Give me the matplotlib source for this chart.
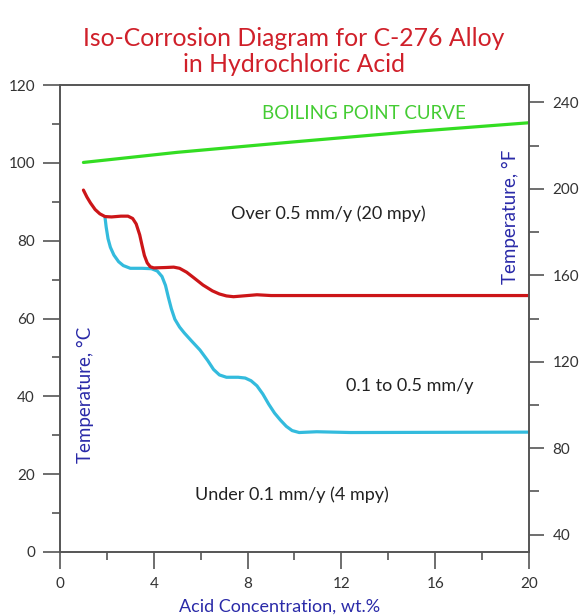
import numpy as np
import matplotlib
matplotlib.use('Agg')
import matplotlib.pyplot as plt
from matplotlib.ticker import MultipleLocator

plt.rcParams['font.family'] = ['Lato', 'DejaVu Sans']

# boiling point curve (wt.%, deg C)
bp_x = [1.0, 5.0, 10.0, 15.0, 20.0]
bp_y = [100.1, 102.7, 105.4, 108.0, 110.3]

# 0.5 mm/y iso-corrosion line
red_x = [1.0, 1.15, 1.3, 1.5, 1.7, 1.92, 2.2, 2.6, 2.9, 3.1, 3.25, 3.4, 3.5, 3.6,
         3.72, 3.85, 4.0, 4.5, 4.85, 5.1, 5.4, 5.7, 6.1, 6.5, 6.8, 7.1, 7.4, 7.8,
         8.4, 9.0, 20.0]
red_y = [93.0, 91.2, 89.7, 88.0, 86.9, 86.2, 86.1, 86.3, 86.3, 85.7, 84.3, 81.5, 78.8, 76.2,
         74.3, 73.3, 73.0, 73.1, 73.2, 72.9, 71.9, 70.5, 68.6, 67.1, 66.3, 65.8, 65.6, 65.8,
         66.1, 65.9, 65.9]

# 0.1 mm/y iso-corrosion line
blue_x = [1.92, 1.97, 2.05, 2.15, 2.3, 2.5, 2.7, 3.0, 3.5, 3.9, 4.15, 4.35, 4.5,
          4.62, 4.75, 4.9, 5.1, 5.3, 5.6, 5.97, 6.3, 6.55, 6.8, 7.1, 7.6, 7.9,
          8.15, 8.4, 8.65, 8.9, 9.15, 9.4, 9.65, 9.9, 10.2, 10.95, 12.4, 20.0]
blue_y = [86.0, 83.5, 80.5, 78.3, 76.3, 74.6, 73.6, 72.9, 72.9, 72.8, 72.2, 70.8, 68.5,
          65.5, 62.5, 59.8, 57.8, 56.3, 54.3, 51.9, 49.2, 46.9, 45.5, 44.9, 44.9, 44.7,
          44.0, 42.7, 40.6, 38.0, 35.7, 33.9, 32.3, 31.2, 30.7, 30.9, 30.7, 30.8]

fig = plt.figure(figsize=(5.8, 6.16), dpi=100)
ax = fig.add_axes([0.1034, 0.1039, 0.8086, 0.7581])

ax.plot(bp_x, bp_y, color='#33dd22', lw=2.3, solid_capstyle='round')
ax.plot(blue_x, blue_y, color='#33bbdd', lw=2.3, solid_capstyle='round',
        solid_joinstyle='round')
ax.plot(red_x, red_y, color='#cc1518', lw=2.3, solid_capstyle='round',
        solid_joinstyle='round')

ax.set_xlim(0, 20)
ax.set_ylim(0, 120)
ax.xaxis.set_major_locator(MultipleLocator(4))
ax.xaxis.set_minor_locator(MultipleLocator(2))
ax.yaxis.set_major_locator(MultipleLocator(20))
ax.yaxis.set_minor_locator(MultipleLocator(10))

spine_col = '#555555'
lab_col = '#333333'
for s in ax.spines.values():
    s.set_color(spine_col)
    s.set_linewidth(1.2)
ax.tick_params(which='major', direction='out', length=12, width=1.2,
               color=spine_col, labelcolor=lab_col, labelsize=11, pad=6)
ax.tick_params(which='minor', direction='out', length=6, width=1.2, color=spine_col)

# right axis in Fahrenheit
ax2 = ax.twinx()
ax2.set_ylim(0 * 1.8 + 32, 120 * 1.8 + 32)
ax2.yaxis.set_major_locator(MultipleLocator(40))
ax2.yaxis.set_minor_locator(MultipleLocator(20))
for s in ax2.spines.values():
    s.set_color(spine_col)
    s.set_linewidth(1.2)
ax2.tick_params(which='major', direction='out', length=11, width=1.2,
                color=spine_col, labelcolor=lab_col, labelsize=11, pad=6)
ax2.tick_params(which='minor', direction='out', length=7, width=1.2, color=spine_col)

txt_col = '#222222'
ax.text(12.97, 112.6, 'BOILING POINT CURVE', color='#44cc33', fontsize=13.5,
        ha='center', va='center')
ax.text(11.43, 86.9, 'Over 0.5 mm/y (20 mpy)', color=txt_col, fontsize=13,
        ha='center', va='center')
ax.text(14.9, 42.7, '0.1 to 0.5 mm/y', color=txt_col, fontsize=13,
        ha='center', va='center')
ax.text(9.9, 14.65, 'Under 0.1 mm/y (4 mpy)', color=txt_col, fontsize=13,
        ha='center', va='center')

blue_lab = '#2a2aa8'
ax.text(1.07, 40.4, 'Temperature, °C', color=blue_lab, fontsize=13.5,
        rotation=90, ha='center', va='center')
ax.text(19.19, 86.1, 'Temperature, °F', color=blue_lab, fontsize=13.5,
        rotation=90, ha='center', va='center')
fig.text(279.5 / 580, 1 - 607 / 616, 'Acid Concentration, wt.%', color=blue_lab,
         fontsize=13, ha='center', va='center')

fig.text(294 / 580, 1 - 51.5 / 616, 'Iso-Corrosion Diagram for C-276 Alloy\nin Hydrochloric Acid',
         color='#d0202a', fontsize=17.8, ha='center', va='center', linespacing=1.2)

fig.savefig('out.png', dpi=100)
